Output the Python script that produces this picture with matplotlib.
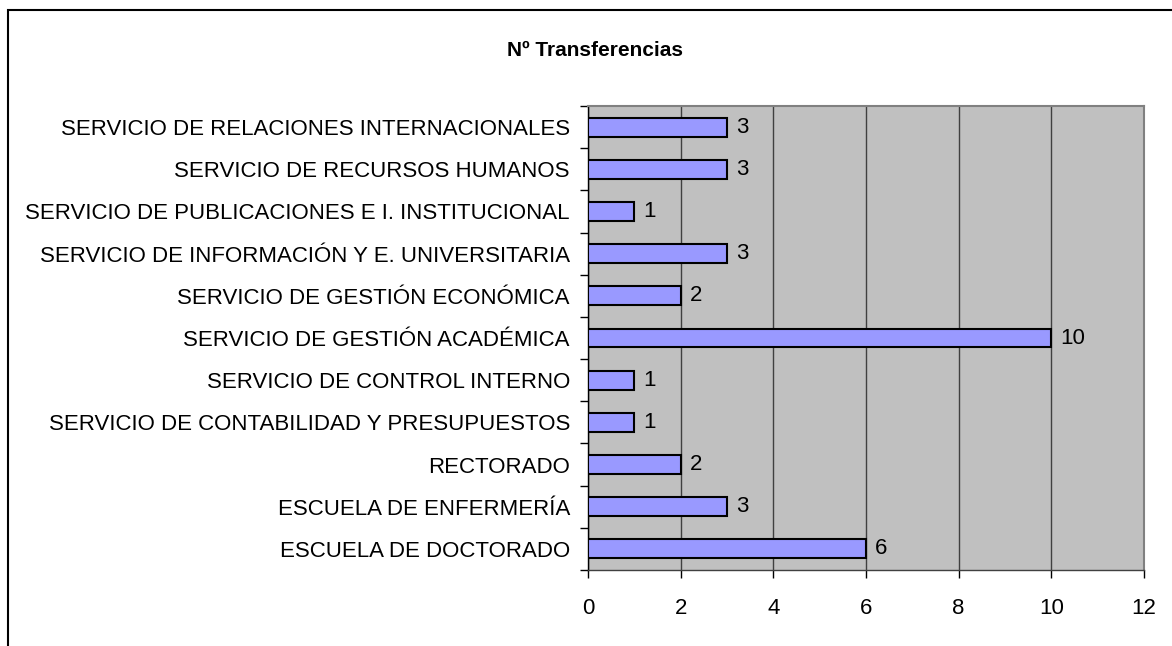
import matplotlib.pyplot as plt
from matplotlib.patches import Rectangle

categories = [
    "ESCUELA DE DOCTORADO",
    "ESCUELA DE ENFERMERÍA",
    "RECTORADO",
    "SERVICIO DE CONTABILIDAD Y PRESUPUESTOS",
    "SERVICIO DE CONTROL INTERNO",
    "SERVICIO DE GESTIÓN ACADÉMICA",
    "SERVICIO DE GESTIÓN ECONÓMICA",
    "SERVICIO DE INFORMACIÓN Y E. UNIVERSITARIA",
    "SERVICIO DE PUBLICACIONES E I. INSTITUCIONAL",
    "SERVICIO DE RECURSOS HUMANOS",
    "SERVICIO DE RELACIONES INTERNACIONALES",
]
values = [6, 3, 2, 1, 1, 10, 2, 3, 1, 3, 3]
xticks = [0, 2, 4, 6, 8, 10, 12]

plt.rcParams['font.family'] = ['Liberation Sans', 'DejaVu Sans']

W, H = 1172, 646
fig = plt.figure(figsize=(W / 100, H / 100), dpi=100)

# outer chart border (runs off right and bottom edges)
fig.patches.append(Rectangle((8 / W, -0.1), 1.2, (H - 10) / H + 0.1,
                             transform=fig.transFigure, fill=False,
                             edgecolor='black', linewidth=1.5))

ax = fig.add_axes([588 / W, (H - 570) / H, 556 / W, (570 - 106) / H])
ax.set_facecolor('#C0C0C0')

pos = list(range(len(categories)))
ax.barh(pos, values, height=0.45, color='#9999FF', edgecolor='black',
        linewidth=1.5, zorder=3)
for p, v in zip(pos, values):
    ax.text(v + 0.2, p, str(v), va='center', ha='left', fontsize=16, zorder=4)

ax.set_xlim(0, 12)
ax.set_ylim(-0.5, len(categories) - 0.5)
ax.set_xticks(xticks)
ax.set_xticklabels([str(t) for t in xticks], fontsize=16)
ax.tick_params(axis='x', length=6, width=1, pad=14, colors='black')

ax.set_yticks(pos)
ax.set_yticklabels(categories, fontsize=16)
ax.tick_params(axis='y', which='major', length=0, pad=13)
ax.set_yticks([p - 0.5 for p in pos] + [len(pos) - 0.5], minor=True)
ax.tick_params(axis='y', which='minor', length=6, width=1)

ax.grid(axis='x', color='#404040', linewidth=1, zorder=1)

for s in ['top', 'right']:
    ax.spines[s].set_color('#808080')
    ax.spines[s].set_linewidth(1.5)
ax.spines['left'].set_color('black')
ax.spines['bottom'].set_color('#404040')
ax.spines['left'].set_linewidth(1)
ax.spines['bottom'].set_linewidth(1)

fig.text(595 / W, 1 - 50 / H, "Nº Transferencias", ha='center', va='center',
         fontsize=15, fontweight='bold')

fig.savefig("out.png", dpi=100)
